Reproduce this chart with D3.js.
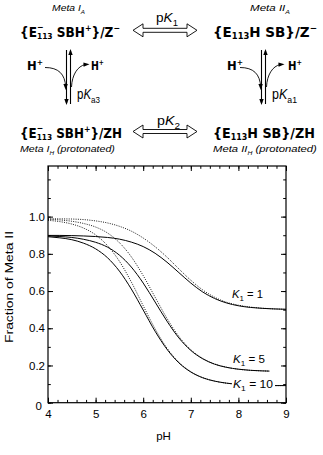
<!DOCTYPE html>
<html><head><meta charset="utf-8">
<script src="https://cdn.jsdelivr.net/npm/d3@7"></script>
<style>body{margin:0;background:#fff}svg{display:block}</style>
</head><body>
<svg id="c" width="323" height="455"></svg>
<script>
// ---------- data ----------
const pH = [4,4.25,4.5,4.75,5,5.25,5.5,5.75,6,6.25,6.5,6.75,7,7.25,7.5,7.75,8,8.25,8.5,8.75,9];
const solidK1  = [0.899,0.899,0.898,0.896,0.893,0.888,0.879,0.863,0.839,0.803,0.755,0.699,0.643,0.595,0.560,0.536,0.521,0.512,0.507,0.504,0.502];
const dottedK1 = [0.989,0.988,0.987,0.984,0.977,0.966,0.948,0.922,0.885,0.838,0.782,0.719,0.658,0.606,0.567,0.540,0.524,0.514,0.508,0.504,0.502];
const solidK5  = [0.896,0.893,0.888,0.878,0.862,0.836,0.793,0.729,0.643,0.541,0.438,0.348,0.281,0.236,0.207,0.190,0.180,0.174,0.171,0.169,0.168];
const dottedK5 = [0.985,0.982,0.975,0.963,0.944,0.912,0.860,0.784,0.683,0.567,0.453,0.356,0.285,0.238,0.208,0.191,0.180,0.174,0.171,0.169,0.168];
const solidK10 = [0.892,0.886,0.876,0.857,0.827,0.779,0.707,0.611,0.498,0.384,0.287,0.214,0.165,0.134,0.116,0.105,0.099,0.096,0.094,0.092,0.092];
const dottedK10= [0.980,0.973,0.960,0.938,0.902,0.844,0.760,0.649,0.521,0.397,0.293,0.217,0.167,0.135,0.116,0.105,0.099,0.096,0.094,0.092,0.092];
const xTicks = [4,5,6,7,8,9];
const yTicks = [0,0.2,0.4,0.6,0.8,1.0];
const curveLabels = ["1","5","10"];

const svg = d3.select("#c");
const FONT = "'Liberation Sans', Arial, Helvetica, sans-serif";
const BOLD = "'DejaVu Sans', 'Liberation Sans', sans-serif";

// ---------- rich text helper ----------
function rich(x, y, segs, opts) {
  const g = svg.append("g");
  let cx = 0;
  segs.forEach(s => {
    const fs = (s.r || 1) * opts.size;
    const t = g.append("text").attr("x", cx).attr("y", (s.dy || 0) * opts.size)
      .attr("font-family", opts.family).attr("font-size", fs)
      .attr("font-weight", opts.weight || "normal")
      .attr("font-style", s.it ? "italic" : (opts.italic ? "italic" : "normal"))
      .attr("fill", "#000").style("white-space", "pre").text(s.t);
    const w = t.node().getComputedTextLength();
    if (!s.noAdv) cx += w;
  });
  const sx = opts.width ? opts.width / cx : 1;
  g.attr("transform", `translate(${x},${y}) scale(${sx},1)`);
  return g;
}
const SUP = -0.42, SUB = 0.2;
function formulaLeft(tail){
  return [{t:"{E"},{t:"\u2212",r:0.65,dy:SUP-0.05,noAdv:true},{t:"113",r:0.62,dy:SUB},{t:" SBH"},{t:"+",r:0.65,dy:SUP},{t:"}/"+tail.main},
    ...(tail.sup?[{t:tail.sup,r:0.65,dy:SUP}]:[])];
}
function formulaRight(tail){
  return [{t:"{E"},{t:"113",r:0.62,dy:SUB},{t:"H SB}/"+tail.main},...(tail.sup?[{t:tail.sup,r:0.65,dy:SUP}]:[])];
}
const fOpt = {size:13.3, family:BOLD, weight:"bold"};
rich(20, 36.5, formulaLeft({main:"Z",sup:"\u2212"}), {...fOpt, width:100});
rich(213, 36.5, formulaRight({main:"Z",sup:"\u2212"}), {...fOpt, width:104});
rich(20, 137.5, formulaLeft({main:"ZH"}), {...fOpt, width:102});
rich(213, 137.5, formulaRight({main:"ZH"}), {...fOpt, width:102});

const mOpt = {size:8.5, family:FONT, italic:true};
rich(52, 11, [{t:"Meta I"},{t:"A",r:0.6,dy:0.3}], {...mOpt, width:33});
rich(250, 11, [{t:"Meta II"},{t:"A",r:0.6,dy:0.3}], {...mOpt, width:40});
rich(20, 152, [{t:"Meta I"},{t:"H",r:0.6,dy:0.3},{t:" (protonated)"}], {...mOpt, width:95});
rich(213, 152, [{t:"Meta II"},{t:"H",r:0.6,dy:0.3},{t:" (protonated)"}], {...mOpt, width:104});

const pOpt = {size:12, family:FONT};
rich(156, 22, [{t:"p"},{t:"K",it:true},{t:"1",r:0.7,dy:0.3}], {...pOpt, width:22});
rich(157, 125, [{t:"p"},{t:"K",it:true},{t:"2",r:0.7,dy:0.3}], {...pOpt, width:23});
rich(77, 99, [{t:"p"},{t:"K",it:true},{t:"a3",r:0.7,dy:0.3}], {...pOpt, size:14, width:23});
rich(272, 99, [{t:"p"},{t:"K",it:true},{t:"a1",r:0.7,dy:0.3}], {...pOpt, size:14, width:25});

const hOpt = {size:11.5, family:BOLD, weight:"bold"};
[[27,16],[91,13],[227,16],[288,14]].forEach(([x,w]) =>
  rich(x, 70, [{t:"H"},{t:"+",r:0.65,dy:SUP}], {...hOpt, width:w}));

// hollow double arrows
function dblArrow(x0, x1, yc) {
  const hl = 10, hh = 6.5, sh = 2;
  const p = `M${x0},${yc} L${x0+hl},${yc-hh} L${x0+hl},${yc-sh} L${x1-hl},${yc-sh} L${x1-hl},${yc-hh} L${x1},${yc} L${x1-hl},${yc+hh} L${x1-hl},${yc+sh} L${x0+hl},${yc+sh} L${x0+hl},${yc+hh} Z`;
  svg.append("path").attr("d", p).attr("fill", "#fff").attr("stroke", "#000").attr("stroke-width", 0.9);
}
dblArrow(133, 197, 30.3);
dblArrow(133, 197, 131.5);

// vertical equilibrium arrows + curved H+ arrows
function head(x, y, ang) {
  svg.append("path").attr("d", "M0,0 L-6,-2.2 L-6,2.2 Z").attr("fill", "#000")
    .attr("transform", `translate(${x},${y}) rotate(${ang})`);
}
function eqArrows(xl) {
  const xr = xl + 4;
  svg.append("line").attr("x1", xl).attr("x2", xl).attr("y1", 50).attr("y2", 103).attr("stroke", "#000").attr("stroke-width", 1.1);
  svg.append("line").attr("x1", xr).attr("x2", xr).attr("y1", 51).attr("y2", 104).attr("stroke", "#000").attr("stroke-width", 1.1);
  head(xl, 105, 90);
  head(xr, 49, -90);
  svg.append("path").attr("d", `M${xl-21.5},67.5 C${xl-8},67.5 ${xl-1.5},74 ${xl-0.8},87`)
    .attr("fill", "none").attr("stroke", "#000").attr("stroke-width", 0.9);
  head(xl-0.7, 90, 88);
  svg.append("path").attr("d", `M${xr+1},87 C${xr+1.5},75 ${xr+7},66 ${xr+15},64.5`)
    .attr("fill", "none").attr("stroke", "#000").attr("stroke-width", 0.9);
  head(xr+19, 64.3, -3);
}
eqArrows(66.5);
eqArrows(261.5);

// ---------- chart ----------
const L = 48, R = 286, T = 166, B = 402.7;
const x = d3.scaleLinear().domain([4, 9]).range([L, R]);
const y = d3.scaleLinear().domain([0, 1.272]).range([B, T]);
const minorX = d3.range(4, 9.001, 0.2).map(v => +v.toFixed(2));
const minorY = d3.range(0, 1.201, 0.1).map(v => +v.toFixed(2));

const tickStyle = g => { g.select(".domain").remove(); g.selectAll("line").attr("stroke", "#000").attr("stroke-width", 1); };

svg.append("g").attr("transform", `translate(0,${B})`)
  .call(d3.axisBottom(x).tickValues(minorX).tickSize(-2.8).tickFormat("")).call(tickStyle);
svg.append("g").attr("transform", `translate(0,${B})`)
  .call(d3.axisBottom(x).tickValues(xTicks).tickSize(-5).tickPadding(7).tickFormat(d3.format("d"))).call(tickStyle)
  .selectAll("text").attr("font-family", FONT).attr("font-size", 11.5).attr("fill", "#000");
svg.append("g").attr("transform", `translate(0,${T})`)
  .call(d3.axisTop(x).tickValues(minorX).tickSize(-2.8).tickFormat("")).call(tickStyle);
svg.append("g").attr("transform", `translate(0,${T})`)
  .call(d3.axisTop(x).tickValues(xTicks).tickSize(-5).tickFormat("")).call(tickStyle);

svg.append("g").attr("transform", `translate(${L},0)`)
  .call(d3.axisLeft(y).tickValues(minorY).tickSize(-2.8).tickFormat("")).call(tickStyle);
const yl = svg.append("g").attr("transform", `translate(${L},0)`)
  .call(d3.axisLeft(y).tickValues(yTicks).tickSize(-5).tickPadding(3).tickFormat(d => d === 0 ? "0" : d.toFixed(1))).call(tickStyle);
yl.selectAll("text").attr("font-family", FONT).attr("font-size", 11.5).attr("fill", "#000");
yl.selectAll(".tick").filter(d => d === 0).select("text").attr("dy", "0.62em").attr("x", -6);
svg.append("g").attr("transform", `translate(${R},0)`)
  .call(d3.axisRight(y).tickValues(minorY).tickSize(-2.8).tickFormat("")).call(tickStyle);
svg.append("g").attr("transform", `translate(${R},0)`)
  .call(d3.axisRight(y).tickValues(yTicks).tickSize(-5).tickFormat("")).call(tickStyle);

svg.append("rect").attr("x", L).attr("y", T).attr("width", R - L).attr("height", B - T)
  .attr("fill", "none").attr("stroke", "#000").attr("stroke-width", 1.2);

svg.append("clipPath").attr("id", "clip5").append("rect")
  .attr("x", L).attr("y", T).attr("width", x(8.65) - L).attr("height", B - T);

const line = d3.line().x((d, i) => x(pH[i])).y(d => y(d)).curve(d3.curveMonotoneX);
const series = [
  {v: dottedK1, dash: "1,1.3", clip: null},
  {v: dottedK5, dash: "1,1.3", clip: "clip5"},
  {v: dottedK10, dash: "1,1.3", clip: null},
  {v: solidK1, dash: null, clip: null},
  {v: solidK5, dash: null, clip: "clip5"},
  {v: solidK10, dash: null, clip: null}
];
series.forEach(s => {
  const p = svg.append("path").attr("d", line(s.v)).attr("fill", "none")
    .attr("stroke", "#000").attr("stroke-width", s.dash ? 0.9 : 1);
  if (s.dash) p.attr("stroke-dasharray", s.dash);
  if (s.clip) p.attr("clip-path", `url(#${s.clip})`);
});

svg.append("rect").attr("x", 232).attr("y", 377).attr("width", 43).attr("height", 14).attr("fill", "#fff");
const labPos = [[232, 298, 31], [233, 363, 32], [233, 388, 40]];
curveLabels.forEach((k, i) => {
  const [lx, ly, w] = labPos[i];
  rich(lx, ly, [{t:"K", it:true}, {t:"1", r:0.7, dy:0.3}, {t:" = " + k}], {size:11.5, family:FONT, width:w});
});

svg.append("text").attr("x", 163.5).attr("y", 440).attr("text-anchor", "middle")
  .attr("font-family", FONT).attr("font-size", 11.5).text("pH");
svg.append("text").attr("transform", "translate(13,287) rotate(-90)").attr("text-anchor", "middle")
  .attr("font-family", FONT).attr("font-size", 11.5).attr("textLength", 112).attr("lengthAdjust", "spacingAndGlyphs")
  .text("Fraction of Meta II");
</script>
</body></html>
